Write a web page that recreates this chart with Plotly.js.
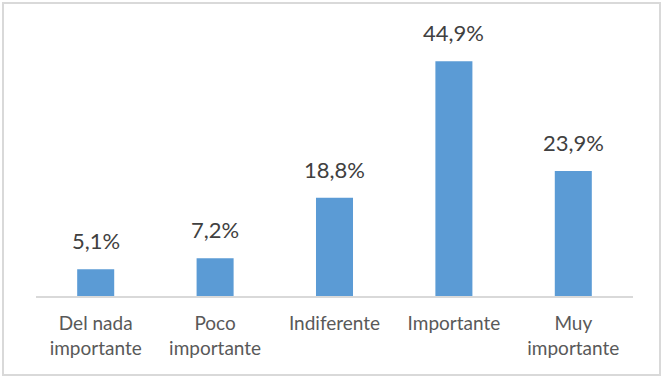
<!DOCTYPE html>
<html>
<head>
<meta charset="utf-8">
<script src="https://cdn.plot.ly/plotly-3.0.1.min.js"></script>
<style>
  body { margin: 0; background: #fff; }
  #wrap { position: relative; width: 663px; height: 378px; }
  #chart { width: 663px; height: 378px; }
  #frame { position: absolute; left: 2px; top: 2px; width: 655px; height: 370px;
           border: 2px solid #d9d9d9; pointer-events: none; }
</style>
</head>
<body>
<div id="wrap"><div id="chart"></div><div id="frame"></div></div>
<script>
const categories = ["Del nada<br>importante", "Poco<br>importante", "Indiferente", "Importante", "Muy<br>importante"];
const values = [5.1, 7.2, 18.8, 44.9, 23.9];
const labels = values.map(v => v.toFixed(1).replace(".", ",") + "%");

const trace = {
  type: "bar",
  x: categories,
  y: values,
  marker: { color: "#5b9bd5" },
  hoverinfo: "none"
};

const annotations = categories.map((c, i) => ({
  x: c, y: values[i], xref: "x", yref: "y",
  text: labels[i], showarrow: false,
  yanchor: "bottom", yshift: 13,
  font: { family: "Lato, 'Open Sans', sans-serif", size: 22, color: "#404040" }
}));

const layout = {
  width: 663, height: 378,
  margin: { l: 36, r: 30, t: 35, b: 82 },
  paper_bgcolor: "#ffffff",
  plot_bgcolor: "#ffffff",
  bargap: 0.69,
  showlegend: false,
  font: { family: "Lato, 'Open Sans', sans-serif", color: "#595959" },
  annotations: annotations,
  xaxis: {
    showline: true, linecolor: "#d9d9d9", linewidth: 2,
    ticks: "", showgrid: false, zeroline: false,
    ticklabelstandoff: 9,
    tickfont: { size: 19, color: "#595959" },
    fixedrange: true
  },
  yaxis: {
    range: [0, 49.9], visible: false, showgrid: false, zeroline: false, fixedrange: true
  }
};

Plotly.newPlot("chart", [trace], layout, { displayModeBar: false, staticPlot: true });
</script>
</body>
</html>
